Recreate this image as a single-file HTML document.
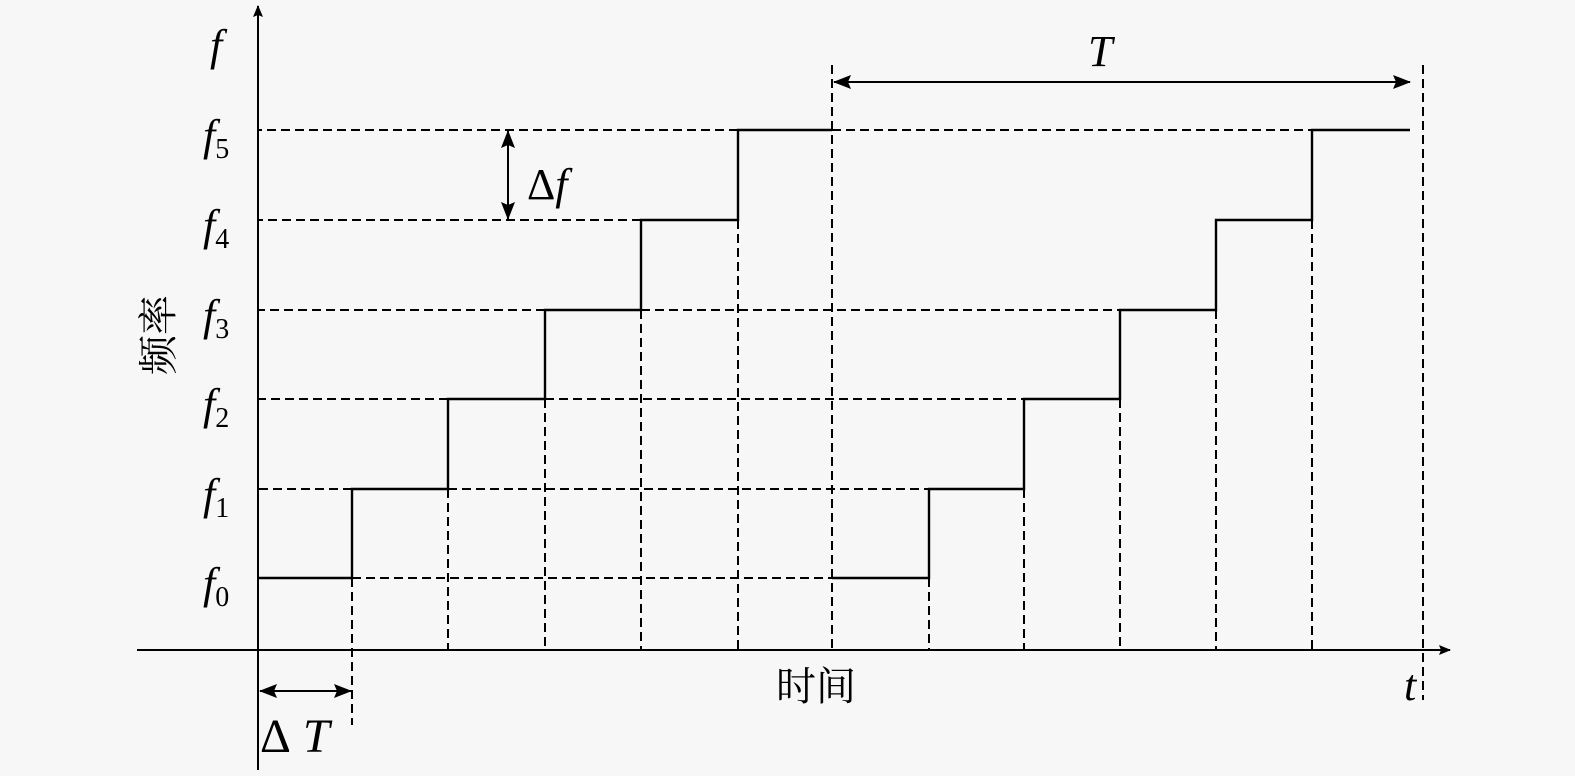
<!DOCTYPE html>
<html><head><meta charset="utf-8"><style>
body{margin:0;background:#f7f7f7}
svg{display:block}
.it{font-family:"Liberation Serif",serif;font-style:italic;font-size:44px}
.sub{font-family:"Liberation Serif",serif;font-size:28px;font-style:normal}
.cj{font-family:"Liberation Serif","Noto Serif CJK SC",serif;font-size:40px}
</style></head><body>
<svg width="1575" height="776" viewBox="0 0 1575 776" xmlns="http://www.w3.org/2000/svg">
<defs>
<marker id="a" markerWidth="12" markerHeight="10" refX="11" refY="5" orient="auto-start-reverse" markerUnits="userSpaceOnUse"><path d="M0,0 L12,5 L0,10 L2,5z" fill="#000"/></marker>
<marker id="b" markerWidth="18" markerHeight="14" refX="17" refY="7" orient="auto-start-reverse" markerUnits="userSpaceOnUse"><path d="M0,0 L18,7 L0,14 L3,7z" fill="#000"/></marker>
</defs>
<g stroke="#000" stroke-width="2" fill="none">
<line x1="258" y1="770" x2="258" y2="6" marker-end="url(#a)"/>
<line x1="137" y1="650" x2="1450" y2="650" marker-end="url(#a)"/>
</g>
<g stroke="#000" stroke-width="2" stroke-dasharray="9,5" fill="none">
<line x1="738" y1="130" x2="258" y2="130"/><line x1="832" y1="130" x2="1312" y2="130"/>
<line x1="641" y1="220" x2="258" y2="220"/>
<line x1="545" y1="310" x2="258" y2="310"/><line x1="641" y1="310" x2="1216" y2="310"/>
<line x1="448" y1="399" x2="258" y2="399"/><line x1="545" y1="399" x2="1024" y2="399"/>
<line x1="352" y1="489" x2="258" y2="489"/><line x1="448" y1="489" x2="929" y2="489"/>
<line x1="352" y1="578" x2="832" y2="578"/>
<line x1="352" y1="578" x2="352" y2="725"/>
<line x1="448" y1="489" x2="448" y2="650"/>
<line x1="545" y1="399" x2="545" y2="650"/>
<line x1="641" y1="310" x2="641" y2="650"/>
<line x1="738" y1="220" x2="738" y2="650"/>
<line x1="832" y1="65" x2="832" y2="650"/>
<line x1="929" y1="578" x2="929" y2="650"/>
<line x1="1024" y1="489" x2="1024" y2="650"/>
<line x1="1120" y1="399" x2="1120" y2="650"/>
<line x1="1216" y1="310" x2="1216" y2="650"/>
<line x1="1312" y1="220" x2="1312" y2="650"/>
<line x1="1423" y1="65" x2="1423" y2="700"/>
</g>
<g stroke="#000" stroke-width="2.4" fill="none">
<polyline points="258,578 352,578 352,489 448,489 448,399 545,399 545,310 641,310 641,220 738,220 738,130 832,130"/>
<polyline points="832,578 929,578 929,489 1024,489 1024,399 1120,399 1120,310 1216,310 1216,220 1312,220 1312,130 1410,130"/>
</g>
<g stroke="#000" stroke-width="2" fill="none">
<line x1="834" y1="82" x2="1410" y2="82" marker-start="url(#b)" marker-end="url(#b)"/>
<line x1="508" y1="131" x2="508" y2="219" marker-start="url(#b)" marker-end="url(#b)"/>
<line x1="260" y1="691" x2="351" y2="691" marker-start="url(#b)" marker-end="url(#b)"/>
</g>
<text class="it" x="210" y="60">f</text>
<text class="it" x="203" y="150">f<tspan class="sub" dy="8">5</tspan></text>
<text class="it" x="203" y="240">f<tspan class="sub" dy="8">4</tspan></text>
<text class="it" x="203" y="330">f<tspan class="sub" dy="8">3</tspan></text>
<text class="it" x="203" y="419">f<tspan class="sub" dy="8">2</tspan></text>
<text class="it" x="203" y="509">f<tspan class="sub" dy="8">1</tspan></text>
<text class="it" x="203" y="598">f<tspan class="sub" dy="8">0</tspan></text>
<text class="it" x="527" y="199"><tspan style="font-style:normal">Δ</tspan>f</text>
<text class="it" x="1088" y="66">T</text>
<text class="it" x="1404" y="700">t</text>
<text class="it" x="260" y="752" style="font-size:48px"><tspan style="font-style:normal">Δ</tspan> T</text>
<text class="cj" x="776" y="700">时间</text>
<text class="cj" transform="translate(172,375) rotate(-90)">频率</text>
</svg>
</body></html>
